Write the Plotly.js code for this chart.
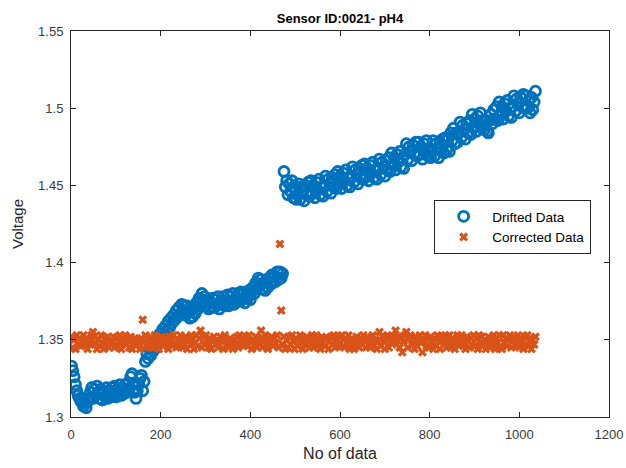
<!DOCTYPE html>
<html>
<head>
<meta charset="utf-8">
<script src="https://cdn.plot.ly/plotly-3.0.1.min.js"></script>
<style>html,body{margin:0;padding:0;background:#fff;}#chart{width:626px;height:468px;}</style>
</head>
<body>
<div id="chart"></div>
<script>
// Sample index: every 3rd sample from 1 to 1036
var sampleStart = 1;
var sampleStep = 3;

// Drifted Data (blue circles), voltage per sample
var driftedData = [
  // samples 1..163
  1.333,1.330,1.326,1.321,1.317,1.314,1.312,1.310,1.309,1.307,
  1.309,1.306,1.310,1.312,1.316,1.319,1.312,1.318,1.314,1.320,
  1.316,1.312,1.318,1.311,1.316,1.313,1.319,1.312,1.317,1.313,
  1.319,1.314,1.320,1.313,1.318,1.315,1.321,1.314,1.319,1.315,
  1.321,1.316,1.322,1.318,1.326,1.328,1.322,1.316,1.312,1.317,
  1.321,1.325,1.327,1.317,1.323,
  // samples 166..472
  1.336,1.341,1.338,1.344,1.340,1.346,1.343,1.349,1.345,1.351,
  1.348,1.354,1.351,1.357,1.353,1.359,1.356,1.362,1.358,1.364,
  1.361,1.366,1.363,1.369,1.365,1.371,1.367,1.373,1.369,1.372,
  1.366,1.372,1.368,1.364,1.370,1.365,1.371,1.367,1.374,1.370,
  1.377,1.373,1.380,1.375,1.378,1.372,1.376,1.370,1.375,1.371,
  1.377,1.371,1.376,1.372,1.378,1.370,1.375,1.373,1.378,1.372,
  1.374,1.379,1.372,1.378,1.374,1.380,1.373,1.377,1.375,1.380,
  1.375,1.381,1.376,1.380,1.374,1.379,1.377,1.382,1.376,1.381,
  1.384,1.380,1.387,1.383,1.390,1.385,1.389,1.383,1.387,1.382,
  1.389,1.384,1.390,1.386,1.392,1.387,1.391,1.388,1.394,1.389,
  1.394,1.390,1.393,
  // samples 475..1036
  1.459,1.449,1.453,1.444,1.451,1.446,1.453,1.442,1.448,1.441,
  1.444,1.451,1.441,1.449,1.446,1.440,1.450,1.444,1.452,1.443,
  1.453,1.445,1.450,1.442,1.452,1.447,1.454,1.444,1.449,1.443,
  1.449,1.456,1.446,1.454,1.451,1.445,1.455,1.449,1.457,1.448,
  1.459,1.451,1.456,1.448,1.458,1.453,1.460,1.450,1.455,1.449,
  1.455,1.462,1.452,1.460,1.457,1.451,1.461,1.455,1.463,1.454,
  1.464,1.456,1.461,1.453,1.463,1.458,1.465,1.455,1.460,1.454,
  1.460,1.467,1.457,1.465,1.462,1.456,1.466,1.460,1.468,1.459,
  1.471,1.463,1.468,1.460,1.470,1.465,1.472,1.462,1.467,1.461,
  1.470,1.477,1.467,1.475,1.472,1.466,1.476,1.470,1.478,1.469,
  1.478,1.470,1.475,1.467,1.477,1.472,1.479,1.469,1.474,1.468,
  1.472,1.479,1.469,1.477,1.474,1.468,1.478,1.472,1.480,1.471,
  1.481,1.473,1.480,1.472,1.484,1.479,1.487,1.477,1.484,1.478,
  1.484,1.491,1.481,1.489,1.486,1.480,1.490,1.484,1.492,1.483,
  1.496,1.488,1.493,1.485,1.495,1.490,1.497,1.487,1.492,1.486,
  1.489,1.485,1.484,1.492,1.496,1.490,1.499,1.493,1.501,1.492,
  1.504,1.496,1.501,1.493,1.503,1.498,1.505,1.495,1.500,1.494,
  1.501,1.508,1.498,1.506,1.503,1.497,1.507,1.501,1.509,1.500,
  1.508,1.500,1.505,1.497,1.507,1.499,1.504,1.511
];

// Corrected Data (orange crosses), voltage per sample
var correctedData = [
  1.352,1.345,1.350,1.344,1.353,1.347,1.351,1.346,1.349,1.353,
  1.346,1.351,1.344,1.350,1.347,1.353,1.355,1.352,1.348,1.344,
  1.350,1.346,1.353,1.348,1.344,1.351,1.347,1.352,1.345,1.349,
  1.347,1.352,1.345,1.351,1.346,1.349,1.353,1.344,1.350,1.348,
  1.353,1.347,1.350,1.345,1.352,1.344,1.349,1.351,1.346,1.350,
  1.348,1.344,1.351,1.363,1.349,1.353,1.346,1.350,1.345,1.352,
  1.345,1.350,1.353,1.347,1.351,1.344,1.348,1.352,1.346,1.349,
  1.351,1.347,1.344,1.352,1.349,1.346,1.353,1.348,1.345,1.350,
  1.346,1.353,1.349,1.345,1.350,1.352,1.344,1.351,1.347,1.353,
  1.350,1.344,1.348,1.353,1.346,1.351,1.356,1.345,1.352,1.347,
  1.353,1.348,1.345,1.351,1.344,1.349,1.352,1.347,1.350,1.345,
  1.347,1.352,1.350,1.344,1.353,1.346,1.349,1.345,1.351,1.348,
  1.344,1.350,1.347,1.352,1.345,1.353,1.348,1.351,1.346,1.350,
  1.352,1.346,1.353,1.349,1.344,1.350,1.347,1.352,1.345,1.351,
  1.349,1.356,1.345,1.350,1.353,1.347,1.344,1.351,1.348,1.352,
  1.346,1.351,1.348,1.353,1.345,1.412,1.369,1.347,1.352,1.344,
  1.350,1.345,1.352,1.347,1.353,1.349,1.344,1.351,1.346,1.350,
  1.353,1.348,1.344,1.351,1.347,1.352,1.350,1.345,1.349,1.353,
  1.345,1.350,1.353,1.346,1.349,1.344,1.352,1.348,1.351,1.346,
  1.351,1.344,1.349,1.352,1.347,1.353,1.345,1.350,1.346,1.352,
  1.348,1.353,1.346,1.345,1.351,1.348,1.353,1.344,1.350,1.347,
  1.344,1.350,1.352,1.348,1.345,1.351,1.347,1.353,1.349,1.345,
  1.352,1.347,1.345,1.351,1.353,1.346,1.350,1.344,1.349,1.355,
  1.346,1.352,1.349,1.344,1.350,1.353,1.345,1.351,1.348,1.352,
  1.350,1.356,1.347,1.352,1.345,1.351,1.342,1.349,1.353,1.355,
  1.345,1.351,1.353,1.347,1.350,1.344,1.352,1.346,1.349,1.353,
  1.348,1.342,1.350,1.353,1.346,1.351,1.345,1.352,1.348,1.344,
  1.351,1.346,1.353,1.349,1.344,1.350,1.352,1.347,1.353,1.345,
  1.349,1.353,1.345,1.351,1.348,1.344,1.350,1.353,1.346,1.351,
  1.353,1.347,1.350,1.344,1.352,1.349,1.345,1.351,1.347,1.353,
  1.346,1.351,1.344,1.353,1.348,1.352,1.346,1.350,1.344,1.349,
  1.352,1.345,1.350,1.347,1.353,1.344,1.351,1.348,1.353,1.346,
  1.344,1.353,1.348,1.351,1.346,1.350,1.353,1.345,1.349,1.352,
  1.350,1.346,1.353,1.345,1.351,1.348,1.344,1.352,1.347,1.353,
  1.346,1.351,1.344,1.350,1.347,1.352
];

var seriesNames = ['Drifted Data', 'Corrected Data'];
var xTicks = [0, 200, 400, 600, 800, 1000, 1200];
var yTicks = [1.3, 1.35, 1.4, 1.45, 1.5, 1.55];

function indices(n) {
  var a = [];
  for (var i = 0; i < n; i++) a.push(sampleStart + i * sampleStep);
  return a;
}

var axisColor = '#262626';
var fontFam = 'Liberation Sans, Arial, Helvetica, sans-serif';

var traces = [
  {
    type: 'scatter', mode: 'markers', name: seriesNames[0],
    x: indices(driftedData.length), y: driftedData,
    marker: {symbol: 'circle-open', size: 10, color: '#0072BD', line: {width: 2.8, color: '#0072BD'}}
  },
  {
    type: 'scatter', mode: 'markers', name: seriesNames[1],
    x: indices(correctedData.length), y: correctedData,
    marker: {symbol: 'x', size: 8, color: '#D95319', line: {width: 0}}
  }
];

var axBase = {
  showgrid: false, zeroline: false, showline: true, mirror: 'ticks',
  linecolor: axisColor, linewidth: 1, ticks: 'inside', ticklen: 5,
  tickcolor: axisColor, tickwidth: 1,
  tickfont: {family: fontFam, size: 13, color: '#3a3a3a'}
};

var layout = {
  width: 626, height: 468,
  margin: {l: 71, r: 17, t: 31, b: 51, pad: 0},
  paper_bgcolor: '#ffffff', plot_bgcolor: '#ffffff',
  font: {family: fontFam, color: axisColor},
  showlegend: true,
  title: {
    text: '<b>Sensor ID:0021- pH4</b>',
    font: {family: fontFam, size: 13, color: '#000000'},
    xref: 'paper', x: 0.5, xanchor: 'center',
    yref: 'container', y: 1 - 18 / 468, yanchor: 'middle'
  },
  xaxis: Object.assign({}, axBase, {
    range: [0, 1200], tickmode: 'array', tickvals: xTicks,
    ticktext: xTicks.map(String), ticklabelstandoff: 5,
    title: {text: 'No of data', font: {family: fontFam, size: 16, color: axisColor}, standoff: 7}
  }),
  yaxis: Object.assign({}, axBase, {
    range: [1.3, 1.55], tickmode: 'array', tickvals: yTicks,
    ticktext: yTicks.map(String), ticklabelstandoff: 4,
    title: {text: 'Voltage', font: {family: fontFam, size: 15, color: axisColor}, standoff: 10}
  }),
  legend: {
    x: 0.675, y: 0.562, xanchor: 'left', yanchor: 'top',
    bgcolor: '#ffffff', bordercolor: axisColor, borderwidth: 1,
    font: {family: fontFam, size: 13.5, color: '#000000'},
    itemwidth: 47, tracegroupgap: 0
  },
  annotations: [{
    text: '(a)', xref: 'paper', yref: 'container', x: 0.5, y: 1 + 1 / 468,
    xanchor: 'center', yanchor: 'middle', showarrow: false,
    font: {family: 'Liberation Serif, Times New Roman, serif', size: 14, color: '#000000'}
  }]
};

Plotly.newPlot('chart', traces, layout, {displayModeBar: false, staticPlot: true});
</script>
</body>
</html>
